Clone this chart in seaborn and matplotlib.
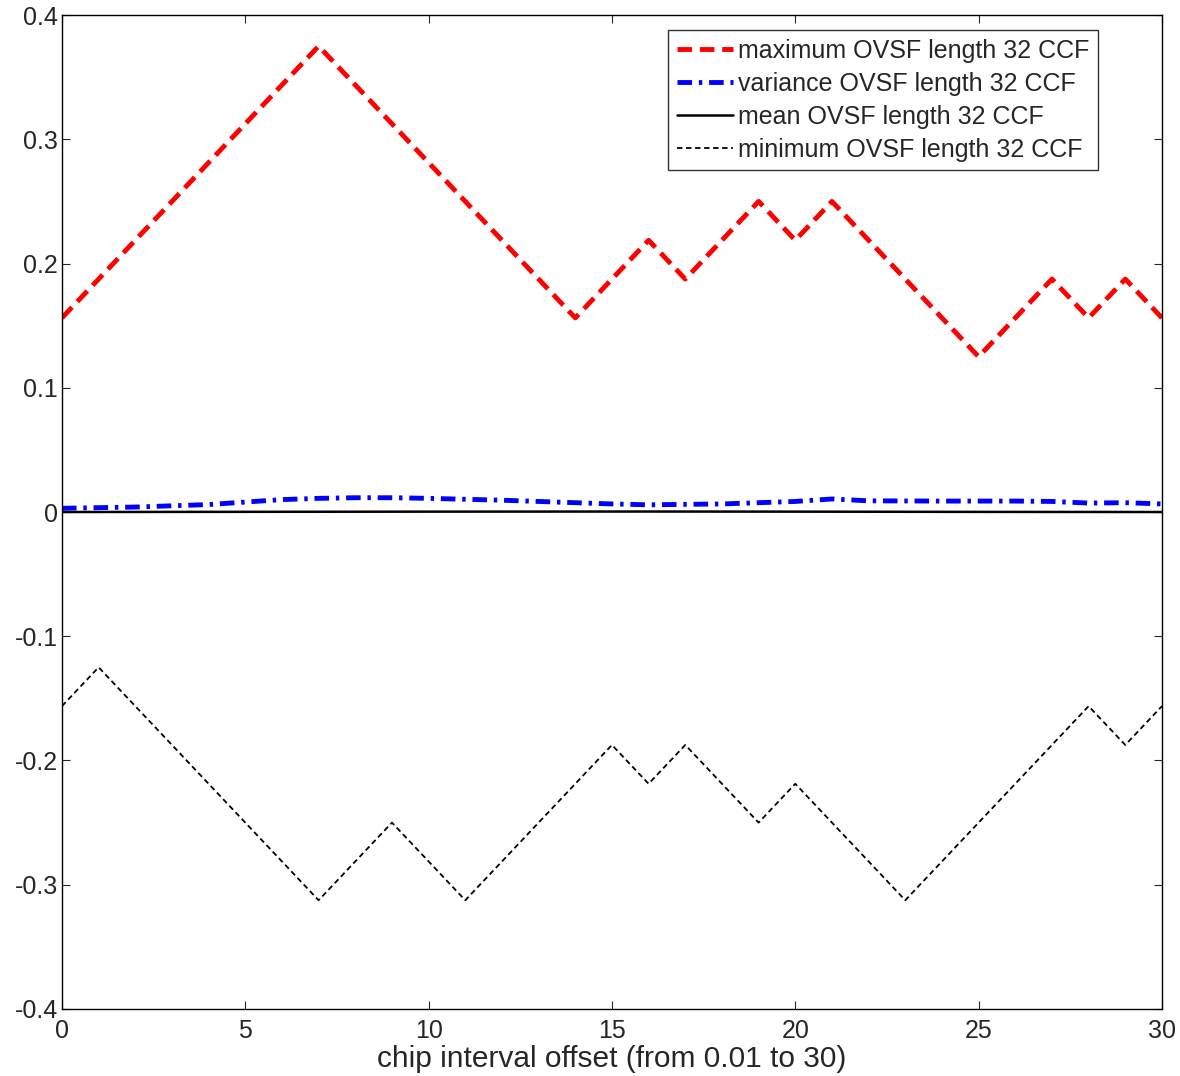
import matplotlib
matplotlib.use("Agg")
import matplotlib.pyplot as plt
import seaborn as sns
import pandas as pd

# vertices (chip offset -> CCF value)
max_x = [0, 7, 14, 16, 17, 19, 20, 21, 25, 27, 28, 29, 30]
max_y = [0.15625, 0.375, 0.15625, 0.21875, 0.1875, 0.25, 0.21875, 0.25,
         0.125, 0.1875, 0.15625, 0.1875, 0.15625]

min_x = [0, 1, 7, 9, 11, 15, 16, 17, 19, 20, 23, 28, 29, 30]
min_y = [-0.15625, -0.125, -0.3125, -0.25, -0.3125, -0.1875, -0.21875, -0.1875,
         -0.25, -0.21875, -0.3125, -0.15625, -0.1875, -0.15625]

var_x = [0, 2, 4, 5, 6, 7, 8, 9, 10, 12, 14, 15, 16, 18, 20, 21, 22, 24, 26, 27, 28, 29, 30]
var_y = [0.003, 0.004, 0.006, 0.008, 0.010, 0.011, 0.0115, 0.0115, 0.011, 0.0095, 0.0075,
         0.0065, 0.0058, 0.0065, 0.0085, 0.0105, 0.0090, 0.0088, 0.0088, 0.0085,
         0.0072, 0.0075, 0.0065]

mean_x = [0, 10, 16, 20, 25, 30]
mean_y = [0.0, 0.0003, 0.0004, 0.0003, 0.0001, 0.0]

sns.set_style("white")
plt.rcParams['font.family'] = ['Liberation Sans', 'DejaVu Sans']

fig = plt.figure(figsize=(11.8, 10.76), dpi=100)
ax = fig.add_axes([0.0525, 0.0623, 0.9322, 0.9237])

sns.lineplot(x=max_x, y=max_y, ax=ax, color='red', lw=3.5, linestyle=(0, (3, 1.6)),
             label='maximum OVSF length 32 CCF')
sns.lineplot(x=var_x, y=var_y, ax=ax, color='blue', lw=3.5, linestyle=(0, (3, 1.4, 0.7, 1.4)),
             label='variance OVSF length 32 CCF')
sns.lineplot(x=mean_x, y=mean_y, ax=ax, color='black', lw=1.8, linestyle='-',
             label='mean OVSF length 32 CCF')
sns.lineplot(x=min_x, y=min_y, ax=ax, color='black', lw=1.3, linestyle=(0, (3, 2)),
             label='minimum OVSF length 32 CCF')

ax.set_xlim(0, 30)
ax.set_ylim(-0.4, 0.4)
ax.set_xticks([0, 5, 10, 15, 20, 25, 30])
ax.set_yticks([-0.4, -0.3, -0.2, -0.1, 0, 0.1, 0.2, 0.3, 0.4])
ax.set_yticklabels(['-0.4', '-0.3', '-0.2', '-0.1', '0', '0.1', '0.2', '0.3', '0.4'])
ax.tick_params(direction='in', length=6, width=0.8, labelsize=18, top=True, right=True,
               bottom=True, left=True)
ax.tick_params(axis='x', pad=7)
ax.tick_params(axis='y', pad=3)
for s in ax.spines.values():
    s.set_linewidth(1.0)
    s.set_color('black')
ax.set_xlabel('chip interval offset (from 0.01 to 30)', fontsize=21.5, labelpad=2)

leg = ax.legend(loc='upper right', bbox_to_anchor=(0.9418, 0.985), fontsize=18,
                frameon=True, fancybox=False, handlelength=2.25, handletextpad=0.2,
                borderpad=0.35, labelspacing=0.36, borderaxespad=0)
leg.get_frame().set_edgecolor('black')
leg.get_frame().set_linewidth(1.0)

fig.savefig('out.png', dpi=100)
